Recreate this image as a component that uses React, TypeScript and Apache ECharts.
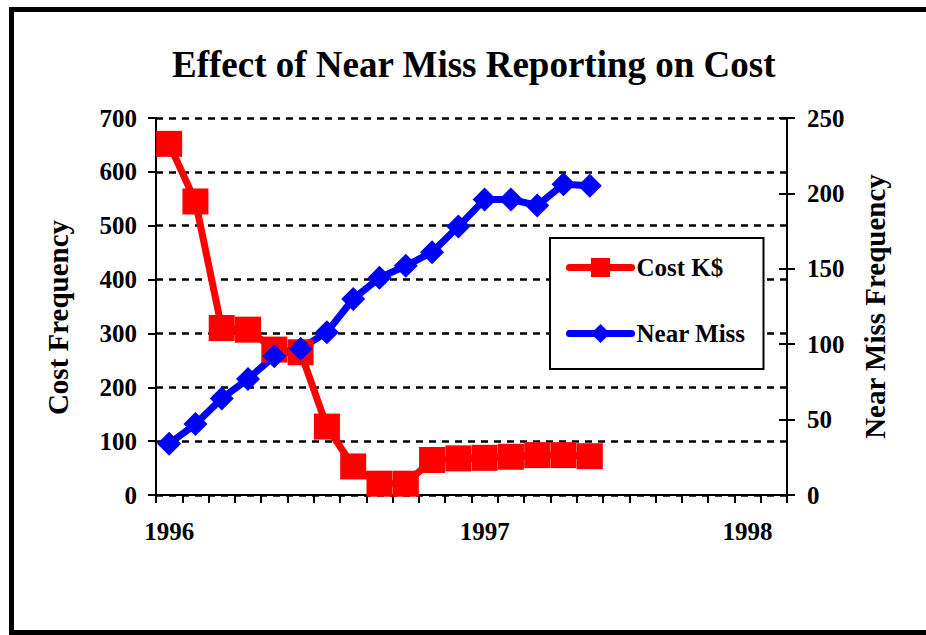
import React, { useEffect, useRef } from "react";
import * as echarts from "echarts";

const months = [
  "1996-01", "1996-02", "1996-03", "1996-04", "1996-05", "1996-06",
  "1996-07", "1996-08", "1996-09", "1996-10", "1996-11", "1996-12",
  "1997-01", "1997-02", "1997-03", "1997-04", "1997-05", "1997-06",
  "1997-07", "1997-08", "1997-09", "1997-10", "1997-11", "1997-12",
];
const xTickLabels = [
  "1996", "", "", "", "", "", "", "", "", "", "", "",
  "1997", "", "", "", "", "", "", "", "", "", "1998", "",
];
const costK = [652, 545, 310, 307, 270, 265, 127, 53, 21, 21, 65, 68, 69, 71, 74, 74, 72];
const nearMiss = [34, 47, 64, 77, 92, 97, 108, 130, 144, 152, 161, 178, 196, 196, 192, 206, 205];
const leftTicks = [0, 700, 100];
const rightTicks = [0, 250, 50];

const FONT = "'Liberation Serif', 'Times New Roman', serif";

export default function App() {
  const ref = useRef<HTMLDivElement>(null);
  useEffect(() => {
    if (!ref.current) return;
    const chart = echarts.init(ref.current, null, { renderer: "svg" });
    const txt = { fontFamily: FONT, fontWeight: "bold" as const, color: "#000" };
    chart.setOption({
      animation: false,
      backgroundColor: "#fff",
      title: {
        text: "Effect of Near Miss Reporting on Cost",
        left: 172,
        top: 46,
        padding: 0,
        textStyle: { ...txt, fontSize: 37 },
      },
      graphic: [
        {
          type: "rect",
          shape: { x: 11.5, y: 9.5, width: 940, height: 623 },
          style: { fill: "none", stroke: "#000", lineWidth: 5 },
          silent: true,
        },
      ],
      legend: {
        orient: "vertical",
        left: 550,
        top: 238,
        padding: [17, 18, 23, 16],
        itemGap: 41,
        itemWidth: 62,
        itemHeight: 24,
        borderColor: "#000",
        borderWidth: 2,
        backgroundColor: "#fff",
        lineStyle: { width: 7, cap: "round" },
        textStyle: { ...txt, fontSize: 25, lineHeight: 24 },
        data: ["Cost K$", "Near Miss"],
      },
      grid: { left: 156, right: 139, top: 118, bottom: 140 },
      xAxis: {
        type: "category",
        data: months,
        boundaryGap: true,
        axisLine: { lineStyle: { color: "#000", width: 2 } },
        axisTick: { show: true, interval: 0, length: 8, lineStyle: { color: "#000", width: 2 } },
        axisLabel: {
          interval: 0,
          margin: 24,
          ...txt,
          fontSize: 25,
          formatter: (_v: string, i: number) => xTickLabels[i],
        },
        splitLine: { show: false },
      },
      yAxis: [
        {
          type: "value",
          min: leftTicks[0],
          max: leftTicks[1],
          interval: leftTicks[2],
          name: "Cost Frequency",
          nameLocation: "middle",
          nameGap: 84,
          nameTextStyle: { ...txt, fontSize: 29, padding: [0, 22, 0, 0] },
          axisLine: { show: true, lineStyle: { color: "#000", width: 2 } },
          axisTick: { show: true, length: 8, lineStyle: { color: "#000", width: 2 } },
          axisLabel: { ...txt, fontSize: 25, margin: 19 },
          splitLine: { show: true, lineStyle: { color: "#000", width: 2.5, type: [7, 6] } },
        },
        {
          type: "value",
          position: "right",
          min: rightTicks[0],
          max: rightTicks[1],
          interval: rightTicks[2],
          name: "Near Miss Frequency",
          nameLocation: "middle",
          nameGap: 73,
          nameRotate: 90,
          nameTextStyle: { ...txt, fontSize: 29 },
          axisLine: { show: true, lineStyle: { color: "#000", width: 2 } },
          axisTick: { show: true, length: 8, lineStyle: { color: "#000", width: 2 } },
          axisLabel: { ...txt, fontSize: 25, margin: 20 },
          splitLine: { show: false },
        },
        {
          type: "value",
          position: "right",
          min: rightTicks[0],
          max: rightTicks[1],
          interval: rightTicks[2],
          axisLine: { show: false },
          axisTick: { show: true, inside: true, length: 8, lineStyle: { color: "#000", width: 2 } },
          axisLabel: { show: false },
          splitLine: { show: false },
        },
      ],
      series: [
        {
          name: "Cost K$",
          type: "line",
          yAxisIndex: 0,
          data: costK,
          symbol: "rect",
          symbolSize: 26,
          color: "#ff0000",
          lineStyle: { color: "#ff0000", width: 7 },
          itemStyle: { color: "#ff0000" },
        },
        {
          name: "Near Miss",
          type: "line",
          yAxisIndex: 1,
          data: nearMiss,
          symbol: "diamond",
          symbolSize: 24,
          color: "#0000ff",
          lineStyle: { color: "#0000ff", width: 7 },
          itemStyle: { color: "#0000ff" },
        },
      ],
    });
    return () => chart.dispose();
  }, []);
  return (
    <div
      ref={ref}
      style={{ position: "fixed", left: 0, top: 0, width: 926, height: 635, background: "#fff" }}
    />
  );
}
